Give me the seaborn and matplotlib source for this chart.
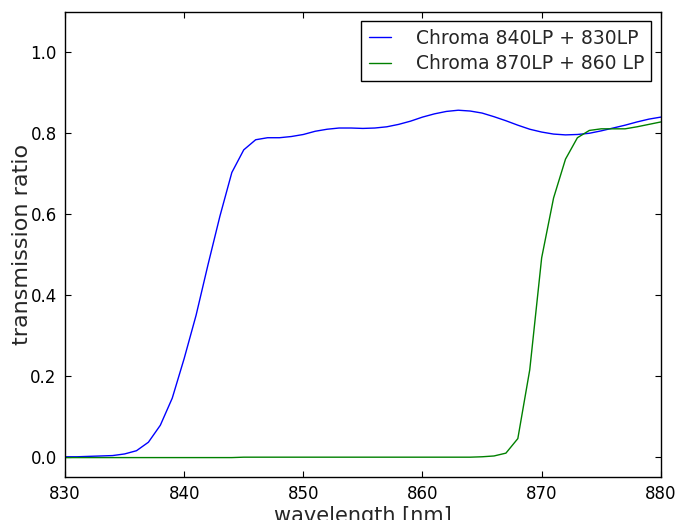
import numpy as np
import pandas as pd
import matplotlib
matplotlib.use("Agg")
import matplotlib.pyplot as plt
import seaborn as sns

# transmission curves, 1 nm steps
wavelength = list(range(830, 881))

blue_840_830 = [
    0.000, 0.000, 0.001, 0.002, 0.003, 0.007, 0.015, 0.036, 0.078, 0.145,
    0.243, 0.350, 0.475, 0.595, 0.703, 0.759, 0.784, 0.789, 0.789, 0.792,
    0.797, 0.805, 0.810, 0.813, 0.813, 0.812, 0.813, 0.816, 0.822, 0.830,
    0.840, 0.848, 0.854, 0.857, 0.855, 0.850, 0.841, 0.831, 0.820, 0.810,
    0.803, 0.798, 0.796, 0.797, 0.800, 0.806, 0.813, 0.820, 0.828, 0.835,
    0.840,
]

green_870_860 = [
    -0.002, -0.002, -0.002, -0.002, -0.002, -0.002, -0.002, -0.002, -0.002, -0.002,
    -0.002, -0.002, -0.002, -0.002, -0.002, -0.001, -0.001, -0.001, -0.001, -0.001,
    -0.001, -0.001, -0.001, -0.001, -0.001, -0.001, -0.001, -0.001, -0.001, -0.001,
    -0.001, -0.001, -0.001, -0.001, -0.001, 0.000, 0.002, 0.009, 0.045, 0.215,
    0.492, 0.640, 0.736, 0.789, 0.807, 0.811, 0.811, 0.811, 0.816, 0.822,
    0.828,
]

labels = ["Chroma 840LP + 830LP", "Chroma 870LP + 860 LP"]

df = pd.DataFrame({
    "wavelength": wavelength * 2,
    "ratio": blue_840_830 + green_870_860,
    "filter": [labels[0]] * len(wavelength) + [labels[1]] * len(wavelength),
})

sns.set_style("ticks")
plt.rcParams["font.family"] = ["DejaVu Sans"]

fig = plt.figure(figsize=(6.75, 5.2), dpi=100)
ax = fig.add_axes([0.0963, 0.0827, 0.8827, 0.8943])

sns.lineplot(data=df, x="wavelength", y="ratio", hue="filter",
             palette=["#0000ff", "#008000"], linewidth=1.0, ax=ax)

ax.set_xlim(830, 880)
ax.set_ylim(-0.05, 1.1)
ax.set_xticks([830, 840, 850, 860, 870, 880])
ax.set_yticks([0.0, 0.2, 0.4, 0.6, 0.8, 1.0])
ax.set_yticklabels(["0.0", "0.2", "0.4", "0.6", "0.8", "1.0"])
ax.tick_params(direction="in", top=True, right=True, labelsize=12,
               length=4, width=0.8, colors="black", pad=6)
for s in ax.spines.values():
    s.set_visible(True)
    s.set_linewidth(1.0)
    s.set_color("black")

ax.set_xlabel("wavelength [nm]", fontsize=15, labelpad=2)
ax.set_ylabel("transmission ratio", fontsize=16, labelpad=-1)

leg = ax.legend(loc="upper right", fontsize=13.5, frameon=True, fancybox=False,
                borderaxespad=0.5, borderpad=0.4, labelspacing=0.35,
                handlelength=1.2, handletextpad=1.3)
leg.get_frame().set_edgecolor("black")
leg.get_frame().set_linewidth(1.0)
leg.get_frame().set_alpha(1.0)

fig.savefig("out.png", dpi=100)
